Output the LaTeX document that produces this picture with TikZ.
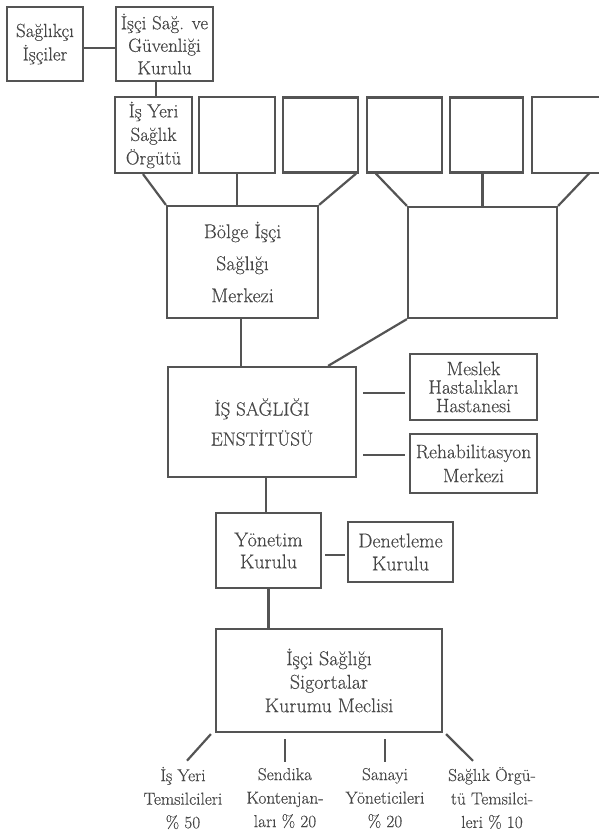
\documentclass[tikz,border=0pt]{standalone}
\usepackage{fontspec}
\setmainfont{Latin Modern Roman}[FakeBold=0.35]
\begin{document}
\begin{tikzpicture}[x=1pt,y=-1pt,
  lc/.style={draw=black!67, line width=2.2pt},
  box/.style={lc, rectangle, inner sep=0pt, align=center, text=black!72,
    font=\fontsize{20}{23}\selectfont},
  tbox/.style={box, font=\fontsize{19}{23.5}\selectfont},
  lab/.style={inner sep=0pt, align=center, text=black!72,
    font=\fontsize{17.3}{23.5}\selectfont},
  conn/.style={draw=black!67, line width=2.2pt}]
\useasboundingbox (0,0) rectangle (599,830);
% top row
\node[tbox, minimum width=76pt, minimum height=74pt] (sag) at (45,44) {Sağlıkçı\\İşçiler};
\node[tbox, minimum width=97pt, minimum height=74pt, font=\fontsize{19}{22.5}\selectfont] (kur) at (164.5,44) {İşçi Sağ. ve\\Güvenliği\\Kurulu};
\node[tbox, minimum width=77pt, minimum height=76pt] (b1) at (153.5,135) {İş Yeri\\Sağlık\\Örgütü};
\node[box, minimum width=76pt, minimum height=76pt] (b2) at (237,135) {};
\node[box, minimum width=75pt, minimum height=75pt] (b3) at (320.5,135) {};
\node[box, minimum width=75pt, minimum height=75pt] (b4) at (404.5,135) {};
\node[box, minimum width=73pt, minimum height=75pt] (b5) at (486.5,135) {};
\node[inner sep=0pt, minimum width=75pt, minimum height=75pt] (b6) at (569.5,135) {};
\draw[lc] (b6.north -| 599,0) -- (b6.north west) -- (b6.south west) -- (b6.south -| 599,0);
% second level
\node[box, minimum width=151pt, minimum height=112pt, font=\fontsize{20}{32}\selectfont] (bolge) at (242.5,262) {Bölge İşçi\\Sağlığı\\Merkezi};
\node[box, minimum width=149pt, minimum height=111pt] (right) at (482.5,262.5) {};
% institute
\node[box, minimum width=188pt, minimum height=110pt, font=\fontsize{19}{30}\selectfont] (enst) at (262,422) {İŞ SAĞLIĞI\\ENSTİTÜSÜ};
\node[box, minimum width=127pt, minimum height=66pt, font=\fontsize{19.5}{18.5}\selectfont] (meslek) at (473.5,387) {Meslek\\Hastalıkları\\Hastanesi};
\node[box, minimum width=127pt, minimum height=59pt, font=\fontsize{19.5}{24}\selectfont] (rehab) at (473.5,463.5) {Rehabilitasyon\\Merkezi};
% management
\node[box, minimum width=105pt, minimum height=75pt, font=\fontsize{20}{22}\selectfont] (yon) at (268.5,550.5) {Yönetim\\Kurulu};
\node[box, minimum width=105pt, minimum height=60pt] (den) at (400.5,552) {Denetleme\\Kurulu};
\node[box, minimum width=226pt, minimum height=103pt, font=\fontsize{20}{23.5}\selectfont] (mec) at (329,680.5) {İşçi Sağlığı\\Sigortalar\\Kurumu Meclisi};
% bottom labels
\node[lab] (l1) at (183,798) {İş Yeri\\Temsilcileri\\\% 50};
\node[lab] (l2) at (285,798) {Sendika\\Kontenjan-\\ları \% 20};
\node[lab] (l3) at (385,798) {Sanayi\\Yöneticileri\\\% 20};
\node[lab] (l4) at (492,798) {Sağlık Örgü-\\tü Temsilci-\\leri \% 10};
% connectors
\draw[conn] ([yshift=-4pt]sag.east) -- ([yshift=-4pt]kur.west);
\draw[conn] ([xshift=2.5pt]b1.north) -- ([xshift=2.5pt]b1.north |- kur.south);
\draw[conn] ([xshift=-10.5pt]b1.south) -- (bolge.north west);
\draw[conn] (b2.south) -- (b2.south |- bolge.north);
\draw[conn] ([xshift=-3pt]b3.south east) -- (bolge.north east);
\draw[conn] ([xshift=10pt]b4.south west) -- (right.north west);
\draw[conn] (right.north) -- (right.north |- b5.south);
\draw[conn] ([xshift=58pt]b6.south west) -- (right.north east);
\draw[conn] ([xshift=-1.5pt]bolge.south) -- ([xshift=-1.5pt]bolge.south |- enst.north);
\draw[conn] (right.south west) -- ([xshift=-29pt]enst.north east);
\draw[conn] ([xshift=-4pt,yshift=-6pt]meslek.west) -- ([xshift=6pt,yshift=-6pt]meslek.west -| enst.east);
\draw[conn] ([xshift=-4pt,yshift=8.5pt]rehab.west) -- ([xshift=6pt,yshift=8.5pt]rehab.west -| enst.east);
\draw[conn] ([xshift=-2.5pt]yon.north) -- ([xshift=-2.5pt]yon.north |- enst.south);
\draw[conn] ([xshift=3pt,yshift=-4.5pt]yon.east) -- ([xshift=-2pt,yshift=-4.5pt]yon.east -| den.west);
\draw[conn] (yon.south) -- (yon.south |- mec.north);
\draw[conn] ([xshift=-4pt,yshift=-1pt]mec.south west) -- ([xshift=4pt,yshift=6pt]l1.north);
\draw[conn] ([yshift=-6pt]l2.north |- mec.south) -- ([yshift=6pt]l2.north);
\draw[conn] ([yshift=-6pt]l3.north |- mec.south) -- ([yshift=6pt]l3.north);
\draw[conn] ([xshift=3pt,yshift=-1pt]mec.south east) -- ([xshift=-19pt,yshift=6pt]l4.north);
\end{tikzpicture}
\end{document}
